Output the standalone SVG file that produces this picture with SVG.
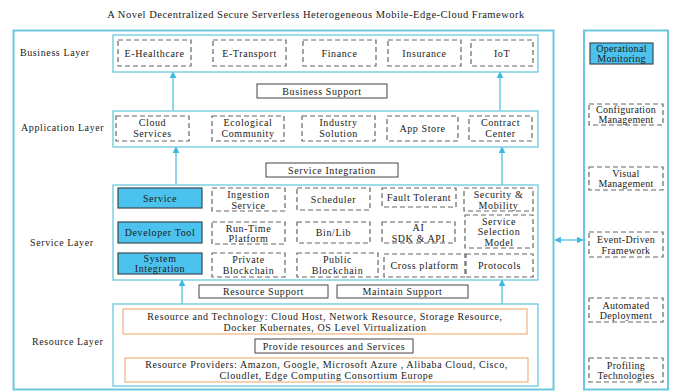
<svg xmlns="http://www.w3.org/2000/svg" width="673" height="391" viewBox="0 0 673 391" font-family="'Liberation Serif', 'DejaVu Serif', serif">
<style>
text{font-family:"Liberation Serif","DejaVu Serif",serif;font-size:10px;fill:#1a1a1a;letter-spacing:0.6px}
.c{text-anchor:middle}
.frame{fill:none;stroke:#6cc8de;stroke-width:2}
.layer{fill:#fff;stroke:#6cc8de;stroke-width:1.3}
.dash{fill:#fff;stroke:#666;stroke-width:1.2;stroke-dasharray:5,3}
.blue{fill:#4cc2ef;stroke:#3a4a55;stroke-width:1.2}
.solid{fill:#fff;stroke:#444;stroke-width:1}
.org{fill:#fff;stroke:#f2b889;stroke-width:1.3}
.ar{stroke:#5cc6e4;stroke-width:1.4;fill:none}
.r{letter-spacing:0.3px}
</style>
<defs>
<marker id="ah" viewBox="0 0 10 10" refX="9" refY="5" markerWidth="5" markerHeight="5" orient="auto-start-reverse">
<path d="M0,0 L10,5 L0,10 z" fill="#3fb9de"/>
</marker>
</defs>
<rect width="673" height="391" fill="#fff"/>
<text class="c" x="316" y="18" style="font-size:10.5px;letter-spacing:0.5px">A Novel Decentralized Secure Serverless Heterogeneous Mobile-Edge-Cloud Framework</text>

<rect class="frame" x="13.5" y="30.5" width="540" height="359"/>
<rect class="frame" x="584" y="30.5" width="84" height="359"/>

<g id="connectors">
<line class="ar" x1="173" y1="110" x2="173" y2="72" marker-end="url(#ah)"/>
<line class="ar" x1="500" y1="110" x2="500" y2="72" marker-end="url(#ah)"/>
<line class="ar" x1="176" y1="185" x2="176" y2="147" marker-end="url(#ah)"/>
<line class="ar" x1="502" y1="185" x2="502" y2="147" marker-end="url(#ah)"/>
<line class="ar" x1="182" y1="304" x2="182" y2="280" marker-end="url(#ah)"/>
<line class="ar" x1="502" y1="304" x2="502" y2="280" marker-end="url(#ah)"/>
<line class="ar" x1="182" y1="358" x2="182" y2="334" marker-end="url(#ah)"/>
<line class="ar" x1="502" y1="358" x2="502" y2="334" marker-end="url(#ah)"/>
<line class="ar" x1="555" y1="240" x2="583" y2="240" marker-start="url(#ah)" marker-end="url(#ah)"/>
</g>

<g id="business-layer">
<text x="20" y="56">Business Layer</text>
<rect class="layer" x="113" y="35" width="425" height="37"/>
<g id="e-healthcare"><rect class="dash" x="118" y="40" width="73" height="26"/><text class="c" x="154.5" y="56.5">E-Healthcare</text></g>
<g id="e-transport"><rect class="dash" x="213" y="40" width="73" height="26"/><text class="c" x="249.5" y="56.5">E-Transport</text></g>
<g id="finance"><rect class="dash" x="303" y="40" width="73" height="26"/><text class="c" x="339.5" y="56.5">Finance</text></g>
<g id="insurance"><rect class="dash" x="388" y="40" width="73" height="26"/><text class="c" x="424.5" y="56.5">Insurance</text></g>
<g id="iot"><rect class="dash" x="471" y="40" width="62" height="26"/><text class="c" x="502" y="56.5">IoT</text></g>
</g>

<g id="business-support"><rect class="solid" x="257" y="84" width="130" height="14"/><text class="c" x="322" y="94.5">Business Support</text></g>

<g id="application-layer">
<text x="21" y="131">Application Layer</text>
<rect class="layer" x="113" y="111" width="425" height="36"/>
<g id="cloud-services"><rect class="dash" x="116" y="116" width="73" height="25"/><text class="c" x="152.5" y="126">Cloud</text><text class="c" x="152.5" y="137">Services</text></g>
<g id="ecological-community"><rect class="dash" x="212" y="116" width="72" height="25"/><text class="c" x="248" y="126">Ecological</text><text class="c" x="248" y="137">Community</text></g>
<g id="industry-solution"><rect class="dash" x="302" y="116" width="73" height="25"/><text class="c" x="338.5" y="126">Industry</text><text class="c" x="338.5" y="137">Solution</text></g>
<g id="app-store"><rect class="dash" x="387" y="116" width="71" height="25"/><text class="c" x="422.5" y="132">App Store</text></g>
<g id="contract-center"><rect class="dash" x="469" y="116" width="63" height="25"/><text class="c" x="500.5" y="126">Contract</text><text class="c" x="500.5" y="137">Center</text></g>
</g>

<g id="service-integration"><rect class="solid" x="266" y="163" width="132" height="14"/><text class="c" x="332" y="173.5">Service Integration</text></g>

<g id="service-layer">
<text x="30" y="246">Service Layer</text>
<rect class="layer" x="113" y="185" width="425" height="95"/>
<g id="service"><rect class="blue" x="118" y="188" width="84" height="20"/><text class="c" x="160" y="201.5">Service</text></g>
<g id="ingestion-service"><rect class="dash" x="212" y="188" width="73" height="23"/><text class="c" x="248.5" y="198">Ingestion</text><text class="c" x="248.5" y="208.5">Service</text></g>
<g id="scheduler"><rect class="dash" x="297" y="188" width="73" height="22"/><text class="c" x="333.5" y="203">Scheduler</text></g>
<g id="fault-tolerant"><rect class="dash" x="382" y="188" width="74" height="19"/><text class="c" x="419" y="201">Fault Tolerant</text></g>
<g id="security-mobility"><rect class="dash" x="464" y="188" width="69" height="23"/><text class="c" x="498.5" y="198">Security &amp;</text><text class="c" x="498.5" y="208.5">Mobility</text></g>

<g id="developer-tool"><rect class="blue" x="118" y="222" width="84" height="21"/><text class="c" x="160" y="236">Developer Tool</text></g>
<g id="run-time-platform"><rect class="dash" x="212" y="222" width="73" height="22"/><text class="c" x="248.5" y="231.5">Run-Time</text><text class="c" x="248.5" y="242">Platform</text></g>
<g id="bin-lib"><rect class="dash" x="297" y="222" width="73" height="21"/><text class="c" x="333.5" y="236">Bin/Lib</text></g>
<g id="ai-sdk-api"><rect class="dash" x="382" y="222" width="73" height="21"/><text class="c" x="418.5" y="231">AI</text><text class="c" x="418.5" y="241.5">SDK &amp; API</text></g>
<g id="service-selection-model"><rect class="dash" x="465" y="215" width="68" height="33"/><text class="c" x="499" y="224.5">Service</text><text class="c" x="499" y="235">Selection</text><text class="c" x="499" y="245.5">Model</text></g>

<g id="system-integration"><rect class="blue" x="118" y="253" width="84" height="21"/><text class="c" x="160" y="262">System</text><text class="c" x="160" y="272">Integration</text></g>
<g id="private-blockchain"><rect class="dash" x="212" y="253" width="73" height="24"/><text class="c" x="248.5" y="263">Private</text><text class="c" x="248.5" y="273.5">Blockchain</text></g>
<g id="public-blockchain"><rect class="dash" x="297" y="253" width="81" height="24"/><text class="c" x="337.5" y="263">Public</text><text class="c" x="337.5" y="273.5">Blockchain</text></g>
<g id="cross-platform"><rect class="dash" x="384" y="254" width="81" height="23"/><text class="c" x="424.5" y="268.5">Cross platform</text></g>
<g id="protocols"><rect class="dash" x="466" y="254" width="67" height="23"/><text class="c" x="499.5" y="268.5">Protocols</text></g>
</g>

<g id="resource-support"><rect class="solid" x="199" y="285" width="129" height="13"/><text class="c" x="263.5" y="295">Resource Support</text></g>
<g id="maintain-support"><rect class="solid" x="337" y="285" width="131" height="13"/><text class="c" x="402.5" y="295">Maintain Support</text></g>

<g id="resource-layer">
<text x="32" y="345">Resource Layer</text>
<rect class="layer" x="113" y="304" width="425" height="82"/>
<g id="resource-technology"><rect class="org" x="123" y="309" width="404" height="25"/><text class="c" x="325" y="319.5">Resource and Technology: Cloud Host, Network Resource, Storage Resource,</text><text class="c" x="325" y="330.5">Docker Kubernates, OS Level Virtualization</text></g>
<g id="provide-resources"><rect class="solid" x="255" y="339" width="158" height="14"/><text class="c" x="334" y="349.5">Provide resources and Services</text></g>
<g id="resource-providers"><rect class="org" x="125" y="358" width="403" height="24"/><text class="c" x="326.5" y="368">Resource Providers: Amazon, Google, Microsoft Azure , Alibaba Cloud, Cisco,</text><text class="c" x="326.5" y="379">Cloudlet, Edge Computing Consortium Europe</text></g>
</g>

<g id="operations">
<g id="operational-monitoring"><rect class="blue" x="590" y="43" width="63" height="21"/><text class="c r" x="621.5" y="52">Operational</text><text class="c r" x="621.5" y="62">Monitoring</text></g>
<g id="configuration-management"><rect class="dash" x="589" y="104" width="74" height="21"/><text class="c r" x="626" y="113">Configuration</text><text class="c r" x="626" y="123">Management</text></g>
<g id="visual-management"><rect class="dash" x="589" y="167" width="74" height="23"/><text class="c r" x="626" y="177">Visual</text><text class="c r" x="626" y="187">Management</text></g>
<g id="event-driven-framework"><rect class="dash" x="589" y="232" width="74" height="25"/><text class="c r" x="626" y="243">Event-Driven</text><text class="c r" x="626" y="253.5">Framework</text></g>
<g id="automated-deployment"><rect class="dash" x="589" y="298" width="74" height="24"/><text class="c r" x="626" y="308.5">Automated</text><text class="c r" x="626" y="319">Deployment</text></g>
<g id="profiling-technologies"><rect class="dash" x="589" y="358" width="74" height="24"/><text class="c r" x="626" y="368.5">Profiling</text><text class="c r" x="626" y="379">Technologies</text></g>
</g>
</svg>
